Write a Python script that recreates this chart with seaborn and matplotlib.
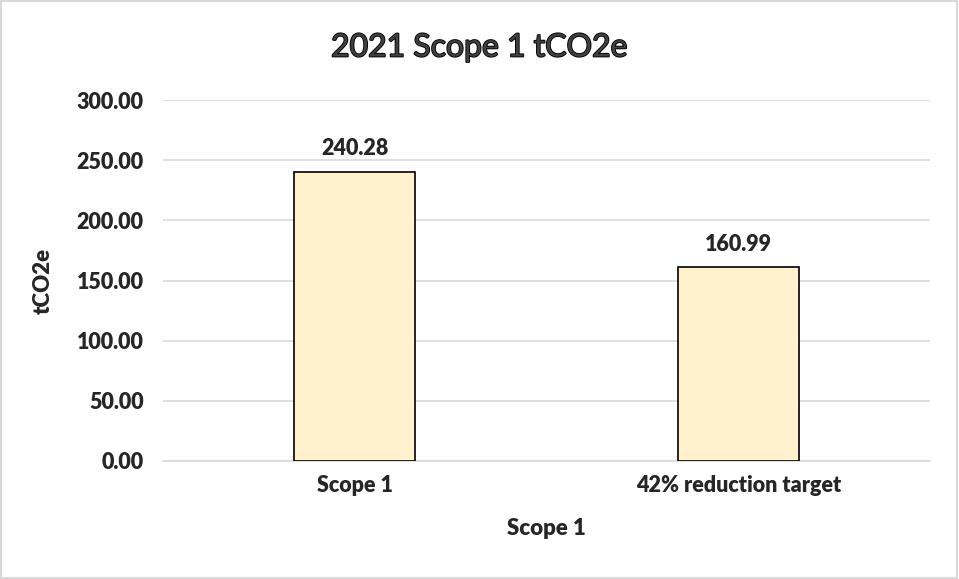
import matplotlib
matplotlib.use("Agg")
import matplotlib.pyplot as plt
import matplotlib.patheffects as pe
import seaborn as sns
import pandas as pd
from matplotlib.patches import Rectangle

categories = ["Scope 1", "42% reduction target"]
values = [240.28, 160.99]
yticks = [0, 50, 100, 150, 200, 250, 300]

sns.set_theme(style="white")
plt.rcParams['font.family'] = ['Lato', 'DejaVu Sans']

df = pd.DataFrame({"cat": categories, "val": values})

fig = plt.figure(figsize=(9.59, 5.79), dpi=100)
ax = fig.add_axes([0.170, 0.204, 0.800, 0.623])
sns.barplot(data=df, x="cat", y="val", color="#FFF2CC", edgecolor="black",
            linewidth=1.2, width=0.316, saturation=1, ax=ax, zorder=3)

W = "heavy"
ax.set_ylim(0, 300)
ax.set_yticks(yticks)
ax.set_yticklabels([f"{v:.2f}" for v in yticks], fontsize=15.5, fontweight=W)
for lbl in ax.get_xticklabels():
    lbl.set_fontsize(15.5)
    lbl.set_fontweight(W)
ax.yaxis.grid(True, color="#D9D9D9", linewidth=1.2, zorder=0)
ax.set_axisbelow(True)
for s in ["top", "right", "left"]:
    ax.spines[s].set_visible(False)
ax.spines["bottom"].set_color("#D9D9D9")
ax.spines["bottom"].set_linewidth(1.2)
ax.tick_params(axis="x", length=0, pad=10)
ax.tick_params(axis="y", length=0, pad=14)

ax.set_xlabel("Scope 1", fontsize=16, fontweight=W, labelpad=16)
ax.set_ylabel("tCO2e", fontsize=16, fontweight=W, labelpad=16)

for p, v in zip(ax.patches, values):
    ax.annotate(f"{v:.2f}", (p.get_x() + p.get_width() / 2, p.get_height()),
                xytext=(0, 9), textcoords="offset points", ha="center", va="bottom",
                fontsize=15.5, fontweight=W)

fig.text(0.5, 0.918, "2021 Scope 1 tCO2e", ha="center", va="center", fontsize=23,
         color="#404040",
         path_effects=[pe.withStroke(linewidth=1.3, foreground="black")])

fig.patches.append(Rectangle((0.001, 0.002), 0.997, 0.996, transform=fig.transFigure,
                             fill=False, edgecolor="#D9D9D9", linewidth=1.5))

fig.savefig("out.png", dpi=100)
